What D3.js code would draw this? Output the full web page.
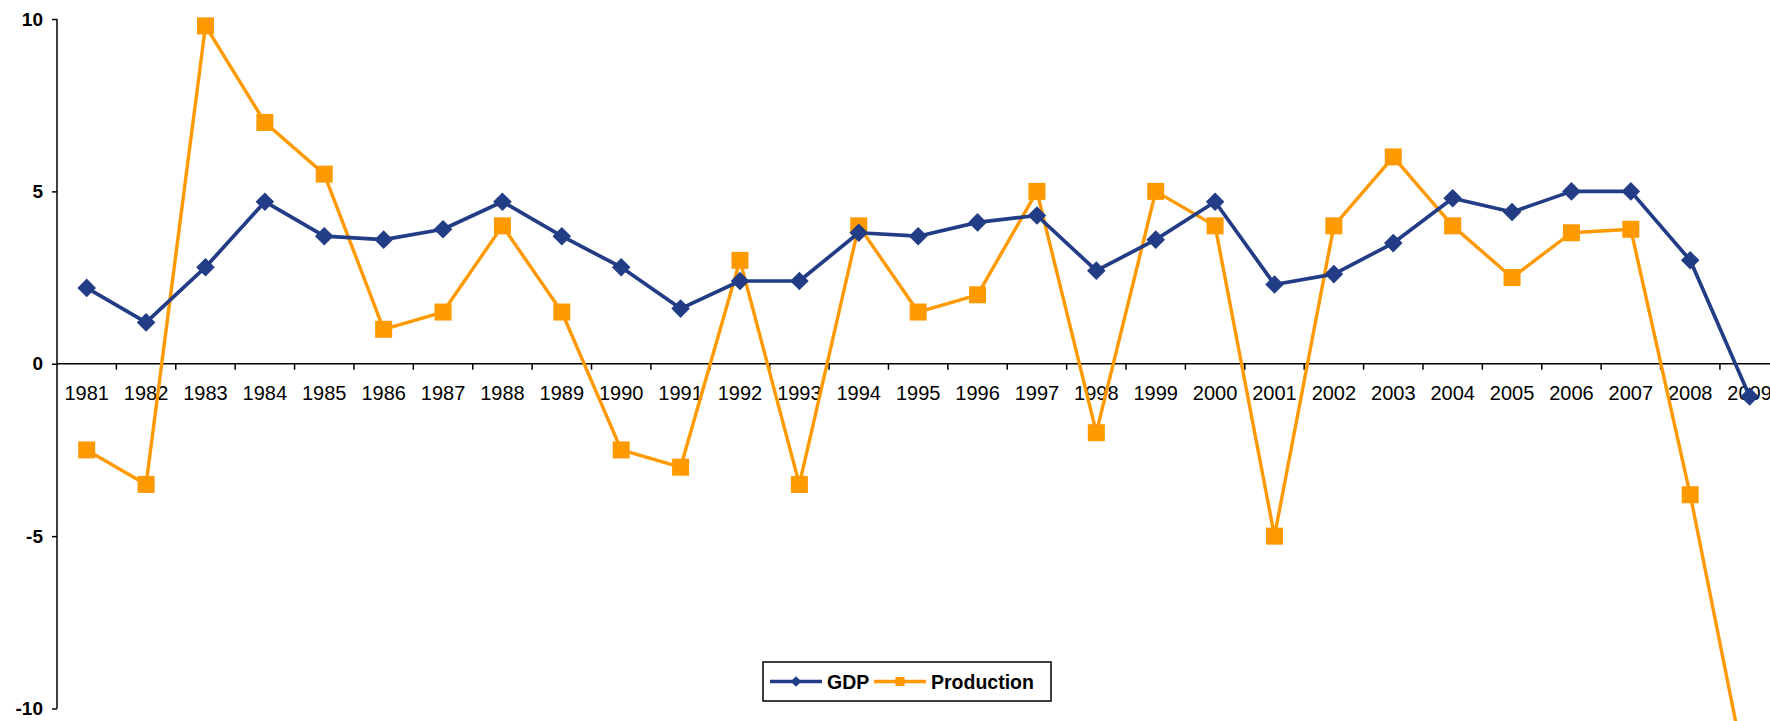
<!DOCTYPE html>
<html>
<head>
<meta charset="utf-8">
<script src="https://cdn.jsdelivr.net/npm/d3@7"></script>
<style>
  html, body { margin: 0; padding: 0; background: #fff; overflow: hidden; }
  svg { display: block; font-family: "Liberation Sans", Arial, sans-serif; }
</style>
</head>
<body>
<svg id="chart" width="1770" height="721"></svg>
<script>
// Annual growth rates (%), 1981-2009
const years = [1981, 1982, 1983, 1984, 1985, 1986, 1987, 1988, 1989, 1990,
               1991, 1992, 1993, 1994, 1995, 1996, 1997, 1998, 1999, 2000,
               2001, 2002, 2003, 2004, 2005, 2006, 2007, 2008, 2009];
const gdp = [2.2, 1.2, 2.8, 4.7, 3.7, 3.6, 3.9, 4.7, 3.7, 2.8,
             1.6, 2.4, 2.4, 3.8, 3.7, 4.1, 4.3, 2.7, 3.6, 4.7,
             2.3, 2.6, 3.5, 4.8, 4.4, 5.0, 5.0, 3.0, -0.95];
const production = [-2.5, -3.5, 9.8, 7.0, 5.5, 1.0, 1.5, 4.0, 1.5, -2.5,
                    -3.0, 3.0, -3.5, 4.0, 1.5, 2.0, 5.0, -2.0, 5.0, 4.0,
                    -5.0, 4.0, 6.0, 4.0, 2.5, 3.8, 3.9, -3.8, -12.4];
const yTicks = [-10, -5, 0, 5, 10];
const seriesNames = ["GDP", "Production"];

const navy = "#233C86";
const orange = "#FF9900";

const svg = d3.select("#chart");

const x = d3.scaleBand().domain(years).range([57, 57 + 29 * 59.39]).padding(0);
const y = d3.scaleLinear().domain([-10, 10]).range([708.5, 19]);
const cx = d => x(d) + x.bandwidth() / 2;

// Y axis (plain hyphen for negatives)
const yAxis = d3.axisLeft(y).tickValues(yTicks).tickSize(5).tickPadding(9).tickFormat(d => String(d));
const gy = svg.append("g").attr("transform", "translate(57,0)").call(yAxis);
gy.select(".domain").attr("stroke", "#000").attr("stroke-width", 1.5).attr("d", `M0,${y(10)}V${y(-10)}`);
gy.selectAll(".tick line").attr("stroke", "#000").attr("stroke-width", 1.5);
gy.selectAll(".tick text")
  .attr("fill", "#000")
  .style("font-family", "'Liberation Sans', Arial, sans-serif")
  .style("font-size", "19px").style("font-weight", "bold");

// X axis along zero, ticks between categories
const gx = svg.append("g").attr("transform", `translate(0,${y(0)})`);
gx.append("line").attr("x1", 57).attr("x2", 1770).attr("stroke", "#000").attr("stroke-width", 1.5);
gx.selectAll("line.sep").data(years.slice(1)).join("line")
  .attr("class", "sep")
  .attr("x1", d => x(d)).attr("x2", d => x(d))
  .attr("y1", 0).attr("y2", 6)
  .attr("stroke", "#000").attr("stroke-width", 1.5);
gx.selectAll("text").data(years).join("text")
  .attr("x", d => cx(d)).attr("y", 36)
  .attr("text-anchor", "middle")
  .style("font-size", "20px").attr("fill", "#000")
  .text(d => d);

// Series lines
const line = d3.line().x((d, i) => cx(years[i])).y(d => y(d));

svg.append("path").datum(production).attr("d", line)
  .attr("fill", "none").attr("stroke", orange).attr("stroke-width", 3.4).attr("stroke-linejoin", "round");
svg.append("path").datum(gdp).attr("d", line)
  .attr("fill", "none").attr("stroke", navy).attr("stroke-width", 3.7).attr("stroke-linejoin", "round");

const square = d3.symbol().type(d3.symbolSquare).size(17 * 17);
const diamond = d3.symbol().type(d3.symbolDiamond2).size(2 * 10.5 * 10.5);

svg.append("g").selectAll("path").data(production).join("path")
  .attr("transform", (d, i) => `translate(${cx(years[i])},${y(d)})`)
  .attr("d", square).attr("fill", orange);

svg.append("g").selectAll("path").data(gdp).join("path")
  .attr("transform", (d, i) => `translate(${cx(years[i])},${y(d)})`)
  .attr("d", diamond).attr("fill", navy);

// Legend
const lg = svg.append("g");
lg.append("rect").attr("x", 763).attr("y", 662).attr("width", 288).attr("height", 39)
  .attr("fill", "#fff").attr("stroke", "#000").attr("stroke-width", 1.5);
const ly = 681.5;
lg.append("line").attr("x1", 770).attr("x2", 822).attr("y1", ly).attr("y2", ly)
  .attr("stroke", navy).attr("stroke-width", 3.6);
lg.append("path").attr("transform", `translate(796,${ly})`)
  .attr("d", d3.symbol().type(d3.symbolDiamond2).size(2 * 6 * 6)).attr("fill", navy);
lg.append("text").attr("x", 827).attr("y", ly + 7).style("font-size", "19.5px").style("font-weight", "bold")
  .text(seriesNames[0]);
lg.append("line").attr("x1", 874).attr("x2", 926).attr("y1", ly).attr("y2", ly)
  .attr("stroke", orange).attr("stroke-width", 3.3);
lg.append("path").attr("transform", `translate(900,${ly})`)
  .attr("d", d3.symbol().type(d3.symbolSquare).size(9 * 9)).attr("fill", orange);
lg.append("text").attr("x", 931).attr("y", ly + 7).style("font-size", "19.5px").style("font-weight", "bold")
  .text(seriesNames[1]);
</script>
</body>
</html>
